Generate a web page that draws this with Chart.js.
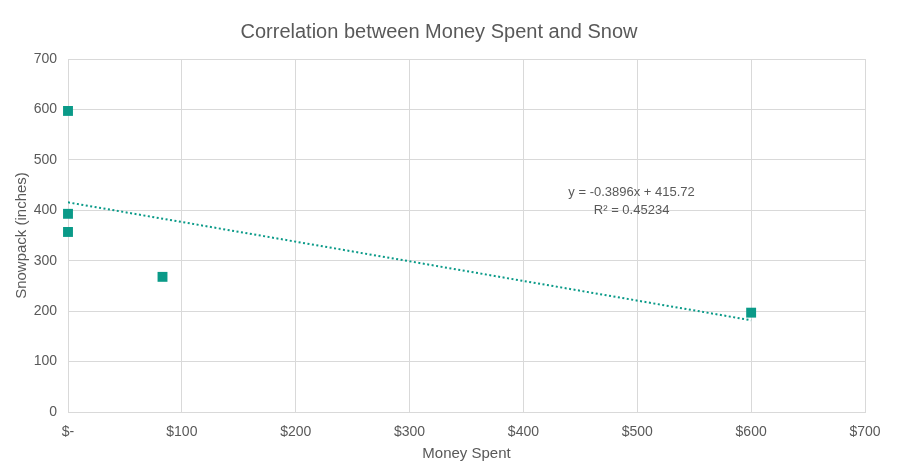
<!DOCTYPE html>
<html>
<head>
<meta charset="utf-8">
<script src="https://cdn.jsdelivr.net/npm/chart.js@4/dist/chart.umd.min.js"></script>
<style>
  html, body { margin: 0; padding: 0; background: #fff; }
  #wrap { width: 900px; height: 471px; }
</style>
</head>
<body>
<div id="wrap"><canvas id="scatterChart"></canvas></div>
<script>
// money spent vs snowpack
const moneySpent = [0, 0, 0, 83, 600];
const snowpack = [597, 393, 357, 268, 197];

// linear trendline endpoints
const trendX = [0, 600];
const trendY = [415.72, 181.96];
const trendLabel = ['y = -0.3896x + 415.72', 'R\u00B2 = 0.45234'];
const labelPos = { x: 495, y: 418 };

const teal = '#0a9a88';
const textGray = '#595959';
const fontFam = '"Liberation Sans", Arial, sans-serif';

// draws the equation text next to the trendline
const trendTextPlugin = {
    id: 'trendText',
    afterDatasetsDraw(chart) {
        const ctx = chart.ctx;
        const px = chart.scales.x.getPixelForValue(labelPos.x);
        const py = chart.scales.y.getPixelForValue(labelPos.y);
        ctx.save();
        ctx.fillStyle = textGray;
        ctx.font = '13px ' + fontFam;
        ctx.textAlign = 'center';
        ctx.textBaseline = 'middle';
        ctx.fillText(trendLabel[0], px, py - 9);
        ctx.fillText(trendLabel[1], px, py + 9);
        ctx.restore();
    }
};

const ctx = document.getElementById('scatterChart').getContext('2d');
new Chart(ctx, {
    type: 'scatter',
    data: {
        datasets: [{
            label: 'Snowpack',
            data: moneySpent.map((m, i) => ({ x: m, y: snowpack[i] })),
            pointStyle: 'rect',
            pointRadius: 7,
            pointHoverRadius: 7,
            backgroundColor: teal,
            borderColor: teal,
            borderWidth: 0,
            clip: false,
            order: 1
        }, {
            label: 'Trend',
            type: 'line',
            data: trendX.map((m, i) => ({ x: m, y: trendY[i] })),
            borderColor: teal,
            borderWidth: 2,
            borderDash: [2, 2.5],
            pointRadius: 0,
            fill: false,
            order: 2
        }]
    },
    options: {
        responsive: true,
        maintainAspectRatio: false,
        animation: false,
        layout: { padding: { left: 13, right: 35, top: 12, bottom: 8 } },
        plugins: {
            legend: { display: false },
            tooltip: { enabled: false },
            title: {
                display: true,
                text: 'Correlation between Money Spent and Snow',
                color: textGray,
                font: { size: 20, family: fontFam, weight: 'normal' },
                padding: { top: 8, bottom: 15 }
            }
        },
        scales: {
            x: {
                type: 'linear',
                min: 0,
                max: 700,
                afterFit: s => { s.height = 51; },
                ticks: {
                    stepSize: 100,
                    color: textGray,
                    font: { size: 14, family: fontFam },
                    padding: 12,
                    callback: v => v === 0 ? '$-' : '$' + v
                },
                grid: { color: '#d9d9d9', drawTicks: false },
                border: { color: '#d9d9d9' },
                title: {
                    display: true,
                    text: 'Money Spent',
                    color: textGray,
                    font: { size: 15, family: fontFam },
                    padding: { top: 0, bottom: 0 }
                }
            },
            y: {
                min: 0,
                max: 700,
                afterFit: s => { s.width = 55; },
                ticks: {
                    stepSize: 100,
                    color: textGray,
                    font: { size: 14, family: fontFam },
                    padding: 11
                },
                grid: { color: '#d9d9d9', drawTicks: false },
                border: { color: '#d9d9d9' },
                title: {
                    display: true,
                    text: 'Snowpack (inches)',
                    color: textGray,
                    font: { size: 15, family: fontFam },
                    padding: { top: 0, bottom: 0 }
                }
            }
        }
    },
    plugins: [trendTextPlugin]
});
</script>
</body>
</html>
